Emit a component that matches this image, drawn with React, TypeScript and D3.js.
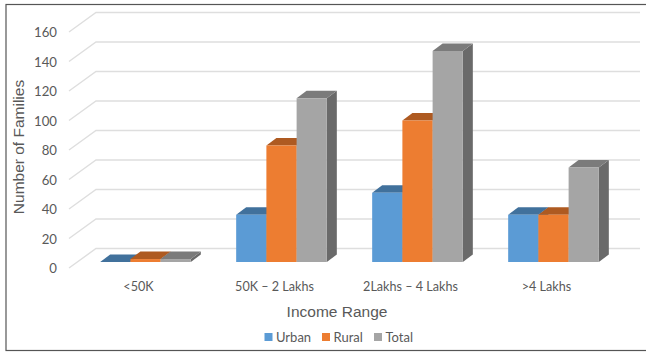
import React from "react";
import * as d3 from "d3";

const categories = ["<50K", "50K – 2 Lakhs", "2Lakhs – 4 Lakhs", ">4 Lakhs"];
const seriesNames = ["Urban", "Rural", "Total"];
const urban = [0, 32, 47, 32];
const rural = [2, 79, 96, 32];
const total = [2, 111, 143, 64];
const yTicks = [0, 20, 40, 60, 80, 100, 120, 140, 160];

const faceColors = ["#5B9BD5", "#ED7D31", "#A5A5A5"];
const topColors = ["#41719C", "#AE5A21", "#7B7B7B"];
const sideColors = ["#3F6F9B", "#A9561F", "#6A6A6A"];

const FONT = "Lato, Carlito, Calibri, sans-serif";
const TEXT = "#595959";

// Floor parallelogram: front edge, back wall and bar depth offsets.
const floorDx = 27;
const floorDy = 19.5;
const barDx = 10;
const barDy = 7.5;

const backY = d3.scaleLinear().domain([0, 160]).range([248.5, 12.5]);
const barHeight = d3.scaleLinear().domain([0, 160]).range([0, 236]);
const catX = d3.scaleBand().domain(categories).range([77.5, 621.5]);
const seriesX = d3
  .scaleBand()
  .domain(seriesNames)
  .range([0, 136])
  .paddingInner(0)
  .paddingOuter(0.75);

const backLeft = 96;
const backRight = 640;
const barBase = 262;

function Bar({ x, w, value, s }: { x: number; w: number; value: number; s: number }) {
  const top = barBase - barHeight(value);
  const front = `${x},${top} ${x + w},${top} ${x + w},${barBase} ${x},${barBase}`;
  const lid = `${x},${top} ${x + barDx},${top - barDy} ${x + w + barDx},${top - barDy} ${x + w},${top}`;
  const side = `${x + w},${top} ${x + w + barDx},${top - barDy} ${x + w + barDx},${barBase - barDy} ${x + w},${barBase}`;
  return (
    <g>
      <polygon points={side} fill={sideColors[s]} />
      <polygon points={lid} fill={topColors[s]} />
      <polygon points={front} fill={faceColors[s]} />
    </g>
  );
}

export default function App() {
  const values = [urban, rural, total];
  const legendX = [264.5, 322, 374];
  return (
    <svg
      width={646}
      height={353}
      style={{ position: "absolute", left: 0, top: 0, fontFamily: FONT, background: "#fff" }}
    >
      <rect x={6} y={4.5} width={660} height={346} fill="#fff" stroke="#555" strokeWidth={1.2} />

      {yTicks.map((t) => (
        <g key={t}>
          <polyline
            points={`${backLeft - floorDx},${backY(t) + floorDy} ${backLeft},${backY(t)} ${backRight},${backY(t)}`}
            fill="none"
            stroke="#DEDEDE"
            strokeWidth={1.4}
          />
          <text x={57} y={backY(t) + floorDy + 5} textAnchor="end" fontSize={13.2} fill={TEXT}>
            {t}
          </text>
        </g>
      ))}

      {categories.map((c, i) => (
        <g key={c}>
          {seriesNames.map((n, s) => (
            <Bar
              key={n}
              x={(catX(c) as number) + (seriesX(n) as number)}
              w={seriesX.bandwidth()}
              value={values[s][i]}
              s={s}
            />
          ))}
        </g>
      ))}

      {categories.map((c) => (
        <text
          key={c}
          x={(catX(c) as number) + catX.bandwidth() / 2 - 7}
          y={290.5}
          textAnchor="middle"
          fontSize={12.6}
          fill={TEXT}
        >
          {c}
        </text>
      ))}

      <text
        transform="translate(24,147) rotate(-90)"
        textAnchor="middle"
        fontSize={15.5}
        fill={TEXT}
        fontFamily="'Liberation Sans', Arial, sans-serif"
      >
        Number of Families
      </text>
      <text
        x={337}
        y={317}
        textAnchor="middle"
        fontSize={15.5}
        fill={TEXT}
        fontFamily="'Liberation Sans', Arial, sans-serif"
      >
        Income Range
      </text>

      {seriesNames.map((n, s) => (
        <g key={n}>
          <rect x={legendX[s]} y={333} width={8} height={8} fill={faceColors[s]} />
          <text x={legendX[s] + 11.5} y={341.5} fontSize={13} fill={TEXT}>
            {n}
          </text>
        </g>
      ))}
    </svg>
  );
}
